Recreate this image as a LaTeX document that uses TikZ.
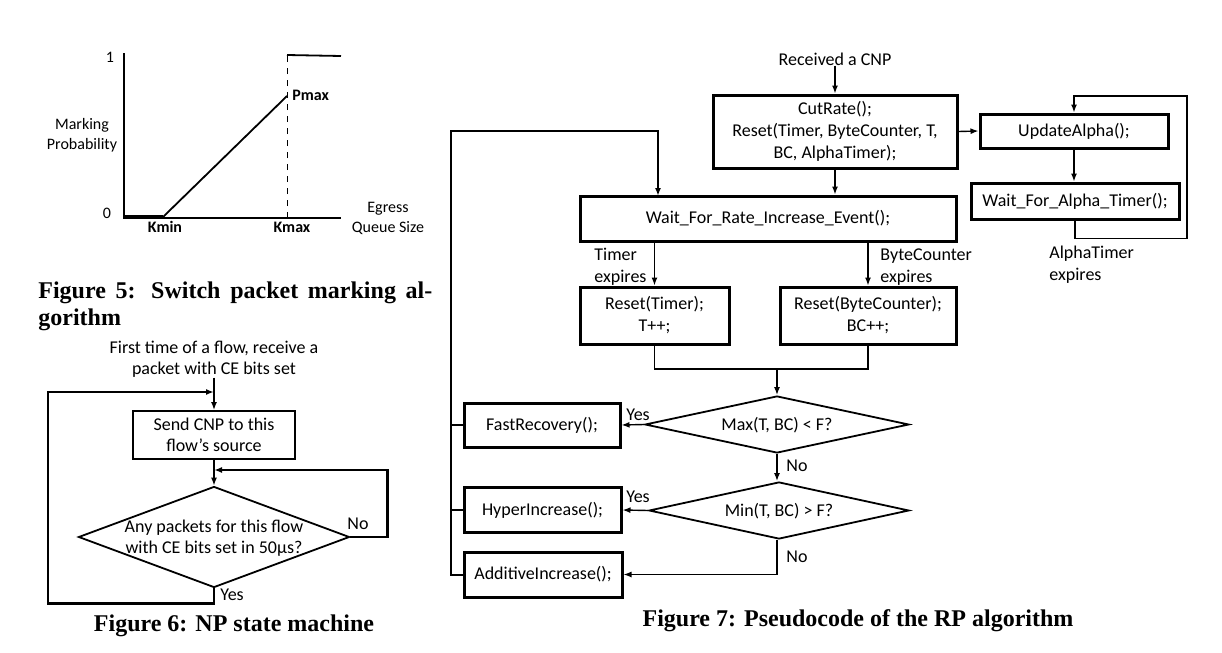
\documentclass[tikz,border=0pt]{standalone}
\usepackage{fontspec}
\setmainfont{Carlito}
\newfontfamily\capfont{Liberation Serif}
\usetikzlibrary{shapes.geometric,arrows.meta,positioning}
\begin{document}
\begin{tikzpicture}[x=0.5pt,y=-0.5pt]
\tikzstyle{lbl}=[inner sep=0pt,align=center,font=\fontsize{9}{11}\selectfont]
\tikzstyle{small}=[inner sep=0pt,align=center,font=\fontsize{8}{10}\selectfont]
\tikzstyle{box}=[draw,line width=1pt,inner sep=0pt,align=center,font=\fontsize{9}{11}\selectfont]
\tikzstyle{bbox}=[box,line width=1.5pt]
\tikzstyle{dia}=[draw,shape=diamond,line width=0.9pt,inner sep=0pt]
\tikzstyle{arr}=[-{Latex[length=4pt,width=3pt]},line width=0.7pt]
\tikzstyle{loopline}=[arr,line width=1.1pt]
\tikzstyle{figcap}=[inner sep=0pt,font=\capfont\bfseries\fontsize{12}{14}\selectfont]
\useasboundingbox (0,0) rectangle (1222,653);

% marking curve
\draw[line width=0.6pt] (124,53) -- (124,218) -- (341,218);
\draw[line width=1.6pt] (125,217) -- (163,217);
\draw[line width=0.9pt] (163,217) -- (287,96);
\draw[dashed,line width=0.5pt] (287,218) -- (287,55);
\draw[line width=0.9pt] (287,55) -- (341,56);
\path (110,57) node[small](one){1} (107,213) node[small](zero){0};
\path (292,95) node[small,anchor=west,font=\bfseries\fontsize{8}{10}\selectfont](pmax){Pmax};
\path (165,227) node[small,font=\bfseries\fontsize{8}{10}\selectfont](kmin){Kmin};
\path (292,227) node[small,font=\bfseries\fontsize{8}{10}\selectfont](kmax){Kmax};
\path (82,135) node[small](mp){Marking\\Probability};
\path (388,218) node[small](eq){Egress\\Queue Size};
\path (38,293) node[figcap,anchor=west](c5a){\makebox[197pt][s]{Figure 5: Switch packet marking al-}};
\path (38,320) node[figcap,anchor=west](c5b){gorithm};

% NP state machine
\path (214,359) node[lbl,font=\fontsize{9}{10.5}\selectfont](first){First time of a flow, receive a\\packet with CE bits set};
\path (214,435) node[box,minimum width=81pt,minimum height=24pt,font=\fontsize{9}{10.5}\selectfont](cnp){Send CNP to this\\flow’s source};
\path (214,537) node[dia,minimum width=135.5pt,minimum height=50.5pt](any){};
\path (214,538) node[lbl,font=\fontsize{9}{10.5}\selectfont](anyt){Any packets for this flow\\with CE bits set in 50µs?};
\coordinate (top6) at (214,392);
\coordinate (left6) at (48,392);
\coordinate (mid6) at (214,470);
\draw[arr] (first.south) -- (cnp.north);
\draw[arr] (cnp.south) -- (any.north);
\draw[loopline] (any.south) -- ++(0,15) -| (left6) -- (top6);
\draw[loopline] (any.east) -- ++(37,0) |- (mid6);
\path (358,524) node[lbl](no6){No} (232,595) node[lbl](yes6){Yes};
\path (234,626) node[figcap](c6){Figure 6: NP state machine};

% RP algorithm
\path (835,59) node[lbl](rcv){Received a CNP};
\path (835,131.5) node[bbox,minimum width=122pt,minimum height=36.5pt](cut){CutRate();\\Reset(Timer, ByteCounter, T,\\BC, AlphaTimer);};
\path (1074,131) node[bbox,minimum width=94pt,minimum height=17pt](upd){UpdateAlpha();};
\path (1075,201) node[bbox,minimum width=104pt,minimum height=18pt](wfat){Wait\_For\_Alpha\_Timer();};
\path (768,218.5) node[bbox,minimum width=188pt,minimum height=22.5pt](wfr){Wait\_For\_Rate\_Increase\_Event();};
\path (654.5,315.5) node[bbox,minimum width=74.5pt,minimum height=28.5pt](rt){Reset(Timer);\\T++;};
\path (868,315.5) node[bbox,minimum width=88pt,minimum height=28.5pt](rb){Reset(ByteCounter);\\BC++;};
\path (777,424.5) node[dia,minimum width=132pt,minimum height=28.5pt](d1){};
\path (777,425) node[lbl](d1t){Max(T, BC) < F?};
\path (779,510.5) node[dia,minimum width=130pt,minimum height=28.5pt](d2){};
\path (779,511) node[lbl](d2t){Min(T, BC) > F?};
\path (542,425) node[bbox,minimum width=78pt,minimum height=22pt](fr){FastRecovery();};
\path (542.5,510) node[bbox,minimum width=78.5pt,minimum height=22.5pt](hi){HyperIncrease();};
\path (543,574.5) node[bbox,minimum width=79pt,minimum height=22.5pt](ai){AdditiveIncrease();};
\coordinate (busT) at (451,131);
\coordinate (wfrin) at (658,196);
\coordinate (alR) at (1187,96);
\coordinate (jn) at (777,369);
\draw[arr] (rcv.south) -- (cut.north);
\draw[arr] (cut.east) -- (upd.west);
\draw[arr] (upd.south) -- (upd.south |- wfat.north);
\draw[arr] (wfat.south) -- ++(0,18) -| (alR) -| (upd.north);
\draw[arr] (cut.south) -- (cut.south |- wfr.north);
\draw[arr,line width=1pt] (ai.west) -| (busT) -| (wfrin);
\draw[line width=1.4pt] (fr.west) -- (fr.west -| busT);
\draw[line width=1.4pt] (hi.west) -- (hi.west -| busT);
\draw[arr] (wfr.south -| rt.north) -- (rt.north);
\draw[arr] (wfr.south -| rb.north) -- (rb.north);
\draw[line width=0.7pt] (rt.south) |- (jn) -| (rb.south);
\draw[arr] (jn) -- (d1.north);
\draw[arr] (d1.west) -- (fr.east);
\draw[arr] (d1.south) -- (d1.south |- d2.north);
\draw[arr] (d2.west) -- (hi.east);
\draw[arr] (d1.south |- d2.south) |- (ai.east);
\path (594,267) node[lbl,anchor=west,align=left](tex){Timer\\expires};
\path (880,267) node[lbl,anchor=west,align=left](bex){ByteCounter\\expires};
\path (1049,264.5) node[lbl,anchor=west,align=left](aex){AlphaTimer\\expires};
\path (638,415) node[lbl](yes1){Yes} (638,497) node[lbl](yes2){Yes};
\path (797,466) node[lbl](no1){No} (797,557) node[lbl](no2){No};
\path (858,621) node[figcap](c7){Figure 7: Pseudocode of the RP algorithm};
\end{tikzpicture}
\end{document}
